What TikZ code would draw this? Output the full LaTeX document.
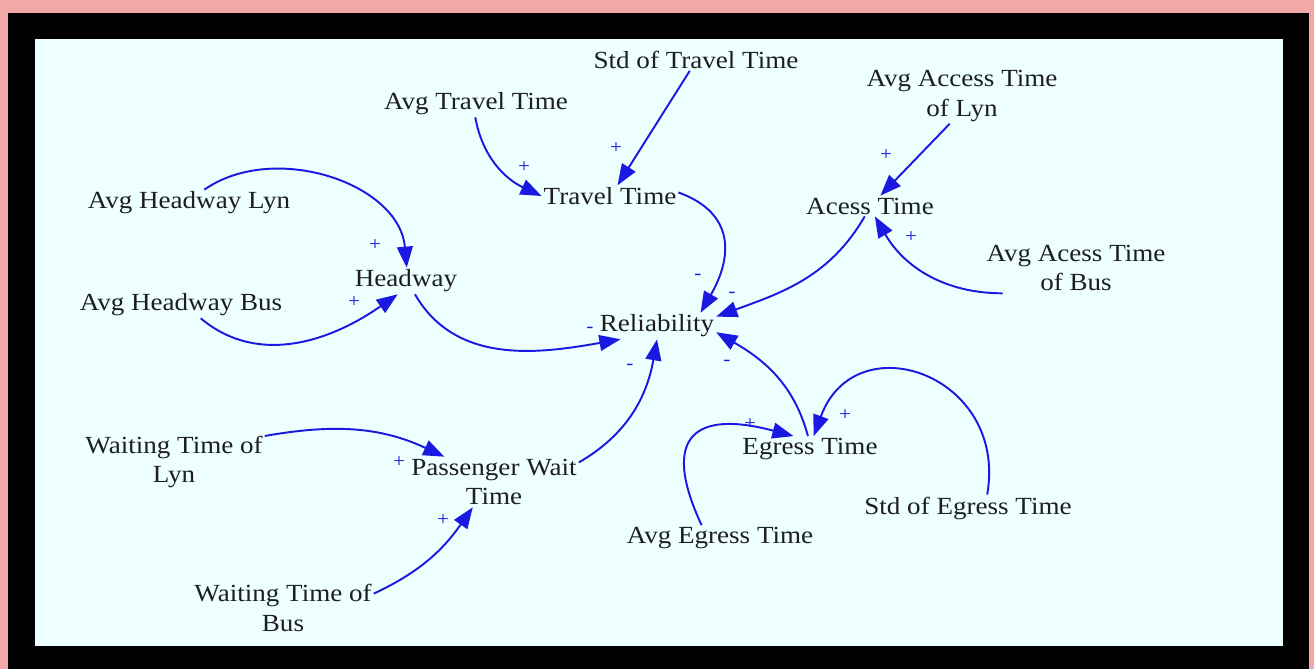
\documentclass[tikz,border=0pt]{standalone}
\usepackage{fontspec}
\setmainfont{Liberation Serif}[FakeStretch=1.1]
\usepackage{xcolor}
\usepackage{tikz}
\usetikzlibrary{arrows.meta}

\definecolor{framepink}{RGB}{240,168,168}
\definecolor{paper}{RGB}{238,255,255}
\definecolor{linkblue}{RGB}{25,25,225}
\definecolor{inkgray}{RGB}{30,30,30}

\begin{document}
\begin{tikzpicture}[
    x=0.02cm, y=0.02cm,
    var/.style={align=center, inner sep=1pt, font=\fontsize{14}{17}\selectfont, text=inkgray},
    arr/.style={-{Triangle[length=12pt, width=9pt]}, line width=1.1pt, draw=linkblue},
    sign/.style={font=\fontsize{11}{11}\selectfont, text=linkblue, inner sep=0pt},
]

% frame
\fill[framepink] (0,0) rectangle (1314,-669);
\fill[black] (8,-13) rectangle (1309,-669);
\fill[paper] (35,-39) rectangle (1283,-646);

% variables
\node[var] (stdtt) at (696,-60) {Std of Travel Time};
\node[var] (avgtt) at (476,-104) {Avg Travel Time};
\node[var] (avgacclyn) at (962,-96) {Avg Access Time\\of Lyn};
\node[var] (avghl) at (189,-203) {Avg Headway Lyn};
\node[var] (travel) at (610,-196) {Travel Time};
\node[var] (access) at (870,-206) {Acess Time};
\node[var] (headway) at (406,-281) {Headway};
\node[var] (avgaccbus) at (1076,-268) {Avg Acess Time\\of Bus};
\node[var] (avghb) at (181,-305) {Avg Headway Bus};
\node[var] (rel) at (657,-326) {Reliability};
\node[var] (wtlyn) at (174,-462) {Waiting Time of\\Lyn};
\node[var] (pwt) at (494,-482) {Passenger Wait\\Time};
\node[var] (egress) at (810,-449) {Egress Time};
\node[var] (stdeg) at (968,-508) {Std of Egress Time};
\node[var] (avgeg) at (720,-538) {Avg Egress Time};
\node[var] (wtbus) at (283,-608) {Waiting Time of\\Bus};

% links
\draw[arr] (avghl.41) to[out=35, in=95] (headway.87);
\draw[arr] (avghb.-34) to[out=-40, in=-145] (headway.-122);
\draw[arr] (headway.-56) to[out=-60, in=190] (rel.200);
\draw[arr] (avgtt.-93) to[out=-80, in=155] (travel.west);
\draw[arr] (stdtt.-120) -- (travel.55);
\draw[arr] (travel.3) to[out=-20, in=60, looseness=1.3] (rel.17);
\draw[arr] (access.-117) to[out=-120, in=20] (rel.9);
\draw[arr] (avgaccbus.199) to[out=180, in=-60] (access.-65);
\draw[arr] (avgacclyn.-114) -- (access.45);
\draw[arr] (egress.99) to[out=105, in=-30] (rel.-6);
\draw[arr] (pwt.13) to[out=30, in=-100] (rel.south);
\draw[arr] (wtlyn.16) to[out=10, in=155] (pwt.153);
\draw[arr] (wtbus.9) to[out=25, in=-125] (pwt.-130);
\draw[arr] (avgeg.145) to[out=115, in=165, looseness=2] (egress.142);
\draw[arr] (stdeg.35) to[out=80, in=70, looseness=1.7] (egress.74);

% polarities
\node[sign] (p1) at (375,-245) {+};
\node[sign] (p2) at (354,-302) {+};
\node[sign] (p3) at (524,-167) {+};
\node[sign] (p4) at (616,-148) {+};
\node[sign] (p5) at (886,-155) {+};
\node[sign] (p6) at (911,-237) {+};
\node[sign] (p7) at (399,-462) {+};
\node[sign] (p8) at (443,-520) {+};
\node[sign] (p9) at (750,-424) {+};
\node[sign] (p10) at (845,-415) {+};
\node[sign] (m1) at (698,-277) {-};
\node[sign] (m2) at (732,-295) {-};
\node[sign] (m3) at (590,-330) {-};
\node[sign] (m4) at (630,-367) {-};
\node[sign] (m5) at (727,-363) {-};

\end{tikzpicture}
\end{document}
